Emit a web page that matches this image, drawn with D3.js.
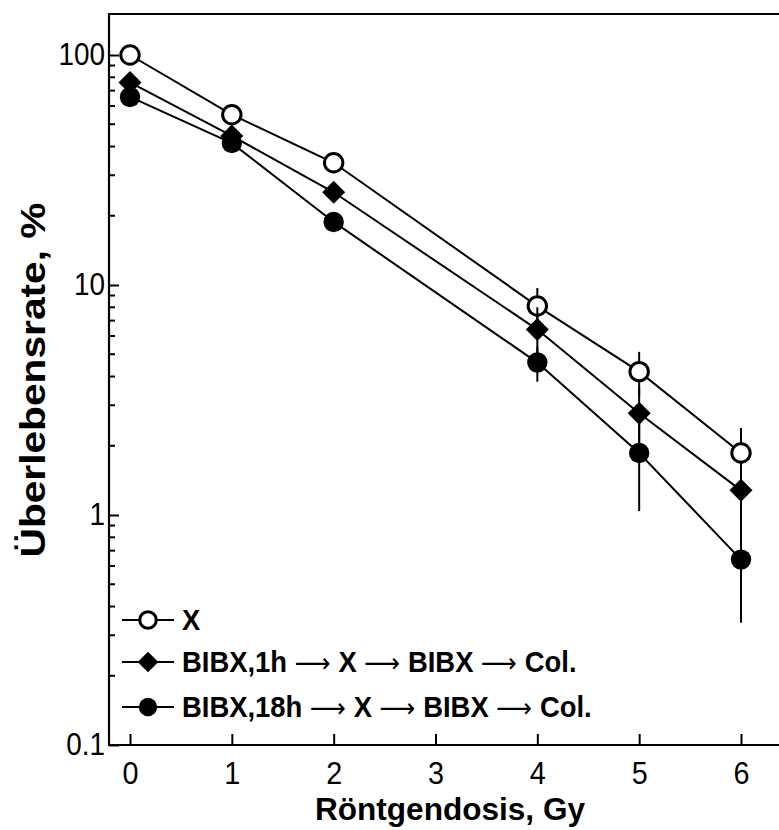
<!DOCTYPE html>
<html><head><meta charset="utf-8">
<script src="https://cdn.jsdelivr.net/npm/d3@7"></script>
<style>body{margin:0;background:#fff}svg{display:block}</style>
</head><body>
<svg id="c" width="779" height="830"></svg>
<script>
const doses = [0, 1, 2, 4, 5, 6];
const xTicks = [0, 1, 2, 3, 4, 5, 6];
const yTickLabels = [0.1, 1, 10, 100];
const seriesNames = [["X"], ["BIBX,1h", "X", "BIBX", "Col."], ["BIBX,18h", "X", "BIBX", "Col."]];
const survX      = [100, 55, 34, 8.1, 4.2, 1.86];
const errX       = [0, 0, 0, 1.6, 0.92, 0.53];
const survBIBX1  = [76, 44.5, 25.3, 6.4, 2.77, 1.28];
const errBIBX1   = [0, 0, 0, 1.6, 0.8, 0.44];
const survBIBX18 = [65.7, 41.4, 18.8, 4.6, 1.86, 0.64];
const errBIBX18  = [0, 0, 0, 0.8, 0.82, 0.30];

const FONT = "Liberation Sans, Arial, sans-serif";
const svg = d3.select("#c");
const x = d3.scaleLinear().domain([0, 6]).range([130, 741]);
const y = d3.scaleLog().domain([0.1, 100]).range([745, 55]);
const L = 109, R = 781, T = 14, B = 745;

const series = [
  {name: seriesNames[0], v: survX, e: errX, sym: "open"},
  {name: seriesNames[1], v: survBIBX1, e: errBIBX1, sym: "diamond"},
  {name: seriesNames[2], v: survBIBX18, e: errBIBX18, sym: "filled"}
];

// frame
svg.append("path").attr("d", `M${R},${T}H${L}V${B}H${R}`).attr("fill","none").attr("stroke","#000").attr("stroke-width",2.2);

// y ticks
const yAxis = d3.axisLeft(y).tickValues(yTickLabels).tickSize(-10).tickPadding(0).tickFormat(d3.format("~g"));
const ya = svg.append("g").attr("transform",`translate(${L},0)`).call(yAxis);
ya.select(".domain").remove();
ya.selectAll("line").attr("stroke-width",2);
ya.selectAll("text").attr("font-family",FONT).attr("font-size",31).attr("fill","#000")
  .attr("x",0).attr("transform","translate(-4,0) scale(0.9,1)");
const minor = [];
[0.1,1,10].forEach(dec => { for (let k=2;k<=9;k++) minor.push(dec*k); });
svg.append("g").selectAll("line").data(minor).join("line")
  .attr("x1",L).attr("x2",L+6).attr("y1",d=>y(d)).attr("y2",d=>y(d))
  .attr("stroke","#000").attr("stroke-width",2);

// x ticks
const xAxis = d3.axisBottom(x).tickValues(xTicks).tickSize(-11).tickPadding(16).tickFormat(d3.format("d"));
const xa = svg.append("g").attr("transform",`translate(0,${B})`).call(xAxis);
xa.select(".domain").remove();
xa.selectAll("line").attr("stroke-width",2);
xa.selectAll("text").attr("font-family",FONT).attr("font-size",32).attr("fill","#000")
  .attr("transform","scale(0.9,1)");

// axis titles
svg.append("text").attr("x",450).attr("y",820).attr("text-anchor","middle")
  .attr("font-family",FONT).attr("font-weight","bold").attr("font-size",31)
  .attr("textLength",270).attr("lengthAdjust","spacingAndGlyphs")
  .text("Röntgendosis, Gy");
svg.append("text").attr("transform","translate(45,380) rotate(-90)").attr("text-anchor","middle")
  .attr("font-family",FONT).attr("font-weight","bold").attr("font-size",35)
  .attr("textLength",355).attr("lengthAdjust","spacingAndGlyphs")
  .text("Überlebensrate, %");

// lines
const line = d3.line().x((d,i)=>x(doses[i])).y(d=>y(d));
series.forEach(s => {
  svg.append("path").attr("d", line(s.v)).attr("fill","none").attr("stroke","#000").attr("stroke-width",2);
});

function drawMarker(g, sym, cx, cy, scale) {
  scale = scale || 1;
  if (sym === "open") {
    g.append("circle").attr("cx",cx).attr("cy",cy).attr("r",9.2*scale).attr("fill","#fff").attr("stroke","#000").attr("stroke-width",3);
  } else if (sym === "filled") {
    g.append("circle").attr("cx",cx).attr("cy",cy).attr("r",10.2*scale).attr("fill","#000");
  } else {
    const h = 11.5*scale;
    g.append("path").attr("d",`M${cx},${cy-h}L${cx+h},${cy}L${cx},${cy+h}L${cx-h},${cy}Z`).attr("fill","#000");
  }
}

series.forEach(s => {
  const g = svg.append("g");
  s.v.forEach((v,i) => {
    if (s.e[i] > 0) {
      g.append("line").attr("x1",x(doses[i])).attr("x2",x(doses[i]))
        .attr("y1",y(v + s.e[i])).attr("y2",y(Math.max(v - s.e[i], 0.1)))
        .attr("stroke","#000").attr("stroke-width",2);
    }
  });
  s.v.forEach((v,i) => drawMarker(g, s.sym, x(doses[i]), y(v)));
});

// legend
const legY = [620, 662, 707];
series.forEach((s,i) => {
  const g = svg.append("g");
  g.append("line").attr("x1",122).attr("x2",174).attr("y1",legY[i]).attr("y2",legY[i]).attr("stroke","#000").attr("stroke-width",2);
  drawMarker(g, s.sym, 148, legY[i], 0.9);
  const t = g.append("text").attr("transform",`translate(182,${legY[i]+10}) scale(0.93,1)`)
    .attr("font-family",FONT).attr("font-weight","bold").attr("font-size",29.5);
  s.name.forEach((part,j) => {
    if (j > 0) {
      t.append("tspan").text("\u00a0");
      t.append("tspan").attr("font-family","DejaVu Sans").attr("font-weight","normal").attr("font-size",27).text("\u27f6");
      t.append("tspan").text("\u00a0");
    }
    t.append("tspan").text(part);
  });
});
</script>
</body></html>
